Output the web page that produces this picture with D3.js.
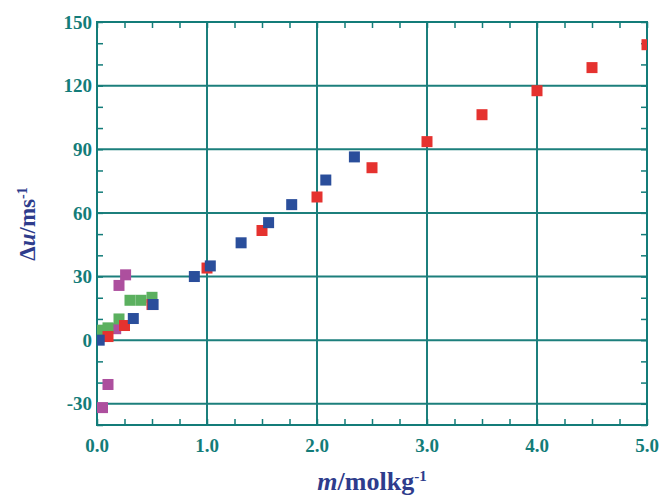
<!DOCTYPE html>
<html>
<head>
<meta charset="utf-8">
<script src="https://cdn.jsdelivr.net/npm/d3@7"></script>
<style>
  body { margin: 0; background: #fff; }
  svg text { font-family: "Liberation Serif", "Times New Roman", serif; font-weight: bold; }
</style>
</head>
<body>
<div id="chart"></div>
<script>
// data: m (mol/kg), Δu (m/s)
var purpleM = [0.05, 0.10, 0.17, 0.20, 0.26];
var purpleU = [-31.8, -20.9, 5.4, 25.8, 30.8];
var greenM = [0.01, 0.10, 0.20, 0.30, 0.40, 0.50];
var greenU = [4.7, 5.8, 10.0, 18.8, 18.8, 20.2];
var redM = [0.10, 0.25, 0.50, 1.00, 1.50, 2.00, 2.50, 3.00, 3.50, 4.00, 4.50, 5.00];
var redU = [1.7, 6.9, 16.8, 34.0, 51.7, 67.5, 81.3, 93.6, 106.3, 117.6, 128.5, 139.3];
var blueM = [0.02, 0.33, 0.51, 0.885, 1.03, 1.31, 1.56, 1.77, 2.08, 2.34];
var blueU = [0.0, 10.2, 16.8, 30.0, 35.0, 45.9, 55.4, 63.9, 75.5, 86.4];

var xTicks = [0, 1, 2, 3, 4, 5];
var yTicks = [-30, 0, 30, 60, 90, 120, 150];

var series = [
  { m: purpleM, u: purpleU, color: "#ad4f9e" },
  { m: greenM, u: greenU, color: "#5bb05f" },
  { m: redM, u: redU, color: "#e5322f" },
  { m: blueM, u: blueU, color: "#2a4e9b" }
];

var W = 665, H = 499;
var margin = { top: 22, right: 18, bottom: 74, left: 97 };
var width = W - margin.left - margin.right,
    height = H - margin.top - margin.bottom;

var teal = "#137c79", gridColor = "#1c7f7c", titleColor = "#2e3c8c";

var x = d3.scaleLinear().domain([0, 5]).range([0, width]);
var y = d3.scaleLinear().domain([-40, 150]).range([height, 0]);

var svg = d3.select("#chart").append("svg")
    .attr("width", W)
    .attr("height", H);

var g = svg.append("g")
    .attr("transform", "translate(" + margin.left + "," + margin.top + ")");

g.append("clipPath").attr("id", "clip")
  .append("rect").attr("width", width).attr("height", height);

// gridlines
g.append("g").selectAll("line")
    .data(xTicks.filter(function (d) { return d > 0 && d < 5; }))
    .enter().append("line")
    .attr("x1", function (d) { return x(d); })
    .attr("x2", function (d) { return x(d); })
    .attr("y1", 0).attr("y2", height)
    .attr("stroke", gridColor).attr("stroke-width", 2);

g.append("g").selectAll("line")
    .data(yTicks.filter(function (d) { return d < 150; }))
    .enter().append("line")
    .attr("y1", function (d) { return y(d); })
    .attr("y2", function (d) { return y(d); })
    .attr("x1", 0).attr("x2", width)
    .attr("stroke", gridColor).attr("stroke-width", 2);

// inward ticks on all four sides
var xMinor = d3.range(0, 5.001, 0.25),
    yMinor = d3.range(-40, 150.001, 10);

function tickSide(axis, scale, vals, size, translate) {
  g.append("g")
      .attr("transform", translate)
      .call(axis(scale).tickValues(vals).tickSize(size).tickFormat(""))
      .call(function (s) {
        s.select(".domain").remove();
        s.selectAll("line").attr("stroke", teal).attr("stroke-width", 1.5);
      });
}
tickSide(d3.axisBottom, x, xMinor, -6, "translate(0," + height + ")");
tickSide(d3.axisTop, x, xMinor, -6, "translate(0,0)");
tickSide(d3.axisLeft, y, yMinor, -6, "translate(0,0)");
tickSide(d3.axisRight, y, yMinor, -6, "translate(" + width + ",0)");

// frame
g.append("rect")
    .attr("width", width).attr("height", height)
    .attr("fill", "none").attr("stroke", teal).attr("stroke-width", 2);

// markers
var size = 11;
var pts = g.append("g").attr("clip-path", "url(#clip)");
series.forEach(function (s) {
  pts.append("g").selectAll("rect")
      .data(d3.range(s.m.length))
      .enter().append("rect")
      .attr("x", function (i) { return x(s.m[i]) - size / 2; })
      .attr("y", function (i) { return y(s.u[i]) - size / 2; })
      .attr("width", size).attr("height", size)
      .attr("fill", s.color);
});

// tick labels
g.append("g").selectAll("text")
    .data(xTicks)
    .enter().append("text")
    .attr("x", function (d) { return x(d); })
    .attr("y", height + 27)
    .attr("text-anchor", "middle")
    .attr("fill", teal)
    .style("font-size", "19px")
    .text(function (d) { return d3.format(".1f")(d); });

g.append("g").selectAll("text")
    .data(yTicks)
    .enter().append("text")
    .attr("x", -5)
    .attr("y", function (d) { return y(d); })
    .attr("dy", "0.35em")
    .attr("text-anchor", "end")
    .attr("fill", teal)
    .style("font-size", "19px")
    .text(function (d) { return d; });

// axis titles
var xt = svg.append("text")
    .attr("x", margin.left + width / 2)
    .attr("y", 490)
    .attr("text-anchor", "middle")
    .attr("fill", titleColor)
    .style("font-size", "26px");
xt.append("tspan").style("font-style", "italic").text("m");
xt.append("tspan").text("/molkg");
xt.append("tspan").attr("dy", "-0.6em").style("font-size", "15px").text("-1");

var yt = svg.append("text")
    .attr("transform", "translate(35,224) rotate(-90)")
    .attr("text-anchor", "middle")
    .attr("fill", titleColor)
    .style("font-size", "23px");
yt.append("tspan").text("Δ");
yt.append("tspan").style("font-style", "italic").text("u");
yt.append("tspan").text("/ms");
yt.append("tspan").attr("dy", "-0.6em").style("font-size", "14px").text("-1");
</script>
</body>
</html>
